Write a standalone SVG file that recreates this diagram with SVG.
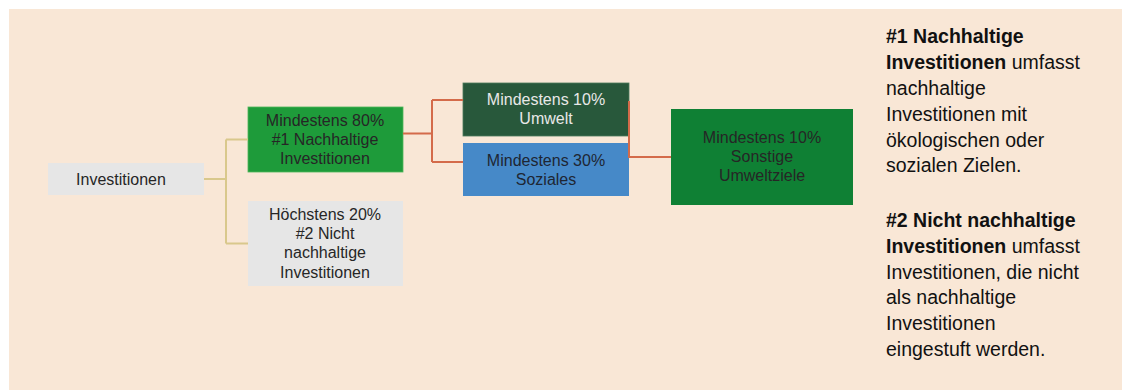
<svg xmlns="http://www.w3.org/2000/svg" width="1122" height="390" viewBox="0 0 1122 390">
<style>
.t{font-family:"Liberation Sans",Arial,sans-serif;font-size:16px;text-anchor:middle;fill:#262626}
.w{fill:#e8e8e8}
.d{fill:#1e2633}
.side{font-family:"Liberation Sans",Arial,sans-serif;font-size:19.5px;fill:#111}
.b{font-weight:bold}
.cy{fill:none;stroke:#d9c88c;stroke-width:2}
.co{fill:none;stroke:#d46b4a;stroke-width:2}
</style>
<rect x="0" y="0" width="1122" height="390" fill="#ffffff"/>
<rect x="9" y="9" width="1113" height="381" fill="#f9e7d6"/>
<g id="node-investitionen">
<rect x="48" y="163" width="156" height="32" fill="#e6e6e6"/>
<text class="t" x="121" y="184.5">Investitionen</text>
</g>
<g id="node-nachhaltig">
<rect x="248" y="107" width="155" height="65" fill="#1e9b3a" stroke="#4fb65a" stroke-width="0.8"/>
<text class="t" x="325" y="125.5">Mindestens 80%</text>
<text class="t" x="325" y="144.5">#1 Nachhaltige</text>
<text class="t" x="325" y="163.5">Investitionen</text>
</g>
<g id="node-nicht-nachhaltig">
<rect x="248" y="201" width="155" height="85" fill="#e6e6e6"/>
<text class="t" x="325" y="220">Höchstens 20%</text>
<text class="t" x="325" y="239">#2 Nicht</text>
<text class="t" x="325" y="258">nachhaltige</text>
<text class="t" x="325" y="277.5">Investitionen</text>
</g>
<g id="node-umwelt">
<rect x="463" y="83" width="166" height="53" fill="#28583b" stroke="#4d7a5c" stroke-width="0.8"/>
<text class="t w" x="546" y="104.5">Mindestens 10%</text>
<text class="t w" x="546" y="123.5">Umwelt</text>
</g>
<g id="node-soziales">
<rect x="463" y="143" width="166" height="53" fill="#4689c8"/>
<text class="t d" x="546" y="165.5">Mindestens 30%</text>
<text class="t d" x="546" y="184.5">Soziales</text>
</g>
<g id="node-sonstige">
<rect x="671" y="109" width="182" height="96" fill="#0f8034"/>
<text class="t" x="762" y="142.5">Mindestens 10%</text>
<text class="t" x="762" y="161.5">Sonstige</text>
<text class="t" x="762" y="181">Umweltziele</text>
</g>
<g id="connectors">
<path class="cy" d="M204,179 H226 M226,139.5 V243.5 M226,139.5 H248 M226,243.5 H248"/>
<path class="co" d="M403,133.5 H432 M432,100 V162 M432,100 H463 M432,162 H463"/>
<path class="co" d="M629,101 V157 H671"/>
</g>
<g id="legend">
<text class="side" x="886" y="43"><tspan class="b">#1 Nachhaltige</tspan></text>
<text class="side" x="886" y="69"><tspan class="b">Investitionen</tspan> umfasst</text>
<text class="side" x="886" y="95">nachhaltige</text>
<text class="side" x="886" y="121">Investitionen mit</text>
<text class="side" x="886" y="146.5">ökologischen oder</text>
<text class="side" x="886" y="172">sozialen Zielen.</text>
<text class="side" x="886" y="227"><tspan class="b">#2 Nicht nachhaltige</tspan></text>
<text class="side" x="886" y="252.5"><tspan class="b">Investitionen</tspan> umfasst</text>
<text class="side" x="886" y="278.5">Investitionen, die nicht</text>
<text class="side" x="886" y="304">als nachhaltige</text>
<text class="side" x="886" y="330">Investitionen</text>
<text class="side" x="886" y="356">eingestuft werden.</text>
</g>
</svg>
